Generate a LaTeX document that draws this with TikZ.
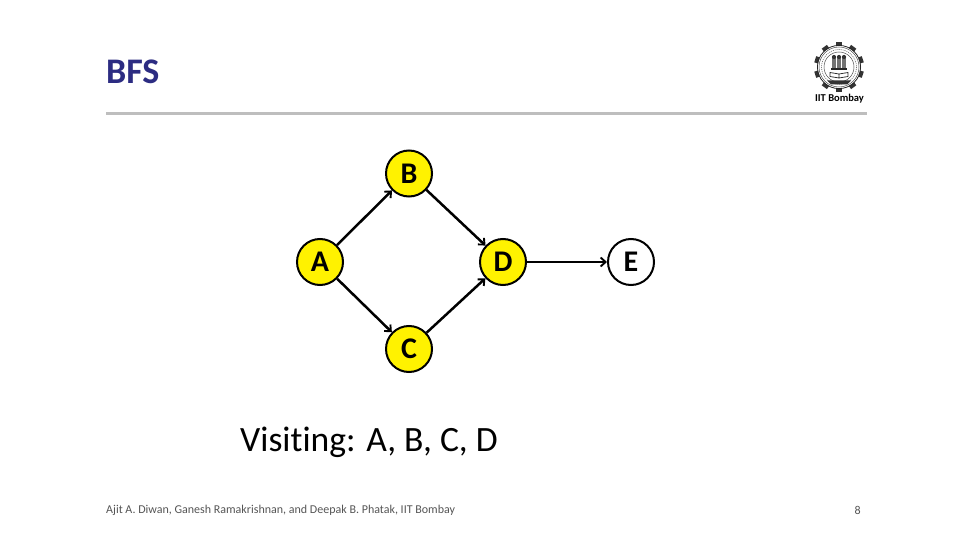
\documentclass[tikz,border=0pt]{standalone}
\usepackage{fontspec}
\setmainfont{Carlito}[Ligatures=NoCommon]
\usetikzlibrary{arrows.meta}
\definecolor{titleblue}{RGB}{44,44,130}
\definecolor{rulegray}{RGB}{190,190,190}
\definecolor{footgray}{RGB}{85,85,85}
\tikzset{
  vertex/.style={circle,draw=black,line width=2pt,minimum size=46pt,inner sep=0pt,font=\bfseries\fontsize{30}{30}\selectfont,text depth=-2pt},
  visited/.style={vertex,fill=yellow},
  edge/.style={line width=2.5pt,-{Straight Barb[length=5pt,width=9pt,line width=1.9pt]}}
}
\begin{document}
\begin{tikzpicture}[x=1pt,y=-1pt]
\useasboundingbox (0,0) rectangle (960,540);
\fill[white] (0,0) rectangle (960,540);
% title and rule
\node[anchor=west,inner sep=0pt,text=titleblue,font=\bfseries\fontsize{36}{36}\selectfont] (title) at (106,71.5) {BFS};
\fill[rulegray] (106,112) rectangle (867,115.5);
% logo
\begin{scope}[shift={(839,67)}]
  \foreach \a in {0,36,...,324}{
    \fill[black!80,rotate=\a] (-3.2,-25) rectangle (3.2,-19);
  }
  \draw[black!85,line width=1pt] (0,0) circle (21.5);
  \fill[white] (0,0) circle (21);
  \draw[black!70,line width=.5pt] (0,0) circle (20);
  \draw[black!60,line width=.6pt,dash pattern=on 1pt off 1pt] (0,0) circle (17.5);
  \draw[black!70,line width=.5pt] (0,0) circle (15);
  \foreach \x in {-5,0,5}{
    \fill[black!55] (\x-2,-9) rectangle (\x+2,1);
    \fill[black!80] (\x,-10) circle (2.1);
  }
  \fill[black!85] (-8,1.5) rectangle (8,3);
  \draw[black!80,line width=.8pt] (-9,5.5) -- (0,7) -- (9,5.5) -- (9,9.5) -- (0,11) -- (-9,9.5) -- cycle (0,7) -- (0,11);
  \fill[black!80] (-12,13.5) -- (12,13.5) -- (8,17.5) -- (-8,17.5) -- cycle;
\end{scope}
\node[inner sep=0pt,font=\bfseries\fontsize{10.5}{10.5}\selectfont] (logotext) at (839.5,98.5) {IIT Bombay};
% graph
\node[visited] (A) at (320,262) {A};
\node[visited] (B) at (409,173.5) {B};
\node[visited] (C) at (409,349) {C};
\node[visited] (D) at (503,262) {D};
\node[vertex,fill=white] (E) at (631,262) {E};
\draw[edge] (A) -- (B);
\draw[edge] (A) -- (C);
\draw[edge] (B) -- (D);
\draw[edge] (C) -- (D);
\draw[edge] (D) -- (E);
% texts
\node[anchor=west,inner sep=0pt,font=\fontsize{35.6}{35.6}\selectfont] (visit) at (240,442) {Visiting: A, B, C, D};
\node[anchor=west,inner sep=0pt,text=footgray,font=\fontsize{12}{12}\selectfont] (foot) at (106,510) {Ajit A. Diwan, Ganesh Ramakrishnan, and Deepak B. Phatak, IIT Bombay};
\node[anchor=east,inner sep=0pt,text=footgray,font=\fontsize{12}{12}\selectfont] (page) at (861,510) {8};
\end{tikzpicture}
\end{document}
